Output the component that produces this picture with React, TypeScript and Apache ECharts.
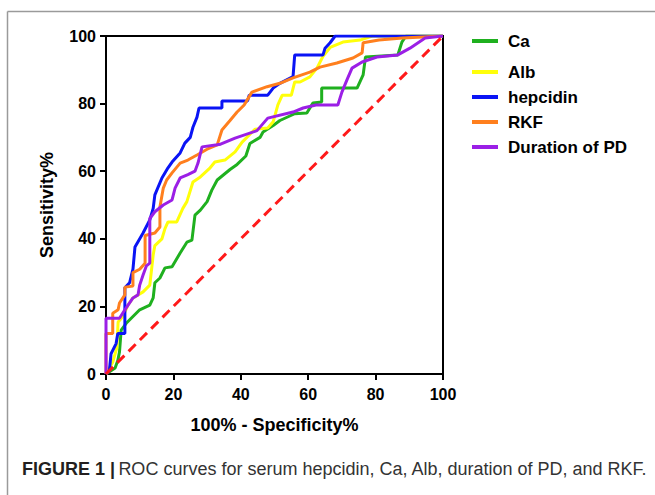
import React, { useEffect, useRef } from "react";
import * as echarts from "echarts";

const seriesNames = ["Ca", "Alb", "hepcidin", "RKF", "Duration of PD"];
const seriesColors = ["#1fb01f", "#ffff0a", "#0a14f5", "#ff7f1e", "#9b1fe6"];

const caData = [[0,0],[2.7,1.8],[3.5,4],[4,6.5],[4.5,13],[6,15],[10,19],[13,20.4],[14,22.5],[14.5,27],[16,28.4],[17.5,31.4],[19.6,31.7],[22,35.8],[24,39],[25.5,39.6],[26.4,47],[28,48.5],[30,51],[31.4,54.4],[33,57.4],[36.8,60.5],[38.9,62],[41.5,64.5],[42.7,68.2],[45.7,70],[46.6,71.6],[49.6,73.5],[51.6,75],[56,77],[59.6,77.2],[61.4,80.2],[64,80.5],[64,84.6],[74.5,84.6],[76.3,88.5],[77,93.8],[86.6,94.4],[87.8,98.2],[89,100],[100,100]];
const albData = [[0,0],[2,3.5],[3.2,7.7],[3.6,15.4],[5,17],[6.5,20.4],[8,22.5],[11,24.3],[13,26.3],[14,35.2],[14.5,38],[16.6,40],[17.5,43],[18.4,45],[21,45],[22.8,49],[24,51],[25.8,56.8],[28,58.3],[30.9,61],[32.3,62.7],[35.3,63.3],[38.3,65.7],[40.4,68.6],[44.2,72.4],[48,72.8],[49.6,74.6],[51,79.6],[52.3,82.5],[55,82.5],[56,86.4],[57.6,86.4],[60.5,87.9],[62.6,90.5],[64.4,94],[66.5,96.6],[70.3,98.2],[75.4,98.8],[79,100],[100,100]];
const hepcidinData = [[0,0],[1,1],[1.5,6],[3,9],[3.5,12],[5.6,12],[5.6,25.5],[7,27],[8,31],[8.6,37.6],[11,41.7],[13,45.6],[14,49],[14.5,53],[16.6,58],[18.4,61],[19.6,62.7],[22,65.4],[23.4,68.3],[25,70],[25.8,73],[27,76],[27.6,78.7],[34.4,78.7],[34.4,80.8],[42,80.8],[42.5,82.5],[48,82.5],[49.6,84.6],[51.6,86],[55.5,88],[56,94.4],[64.4,94.4],[65,96.4],[66.5,98],[68,100],[100,100]];
const rkfData = [[0,0],[0,12],[2,12],[2,18],[3.6,19],[4,21],[5.6,23.4],[5.6,25.7],[8,26],[8,30],[10,31],[11.6,32.8],[11.6,41],[14.5,41.7],[16,43.5],[16,49.4],[17,55],[18,57.4],[19.6,59.5],[22,62.4],[24.3,63.3],[27,64.8],[30,66.5],[33,67.8],[34.4,72.2],[36.8,75],[38.9,77.5],[41,79.6],[43.3,83.4],[47.8,85],[51.6,86],[55.5,87.6],[60.5,89.3],[63.5,90.8],[68.5,92],[73.3,93.5],[76,95],[76.3,98],[81,98.8],[88,99.4],[100,100]];
const durationData = [[0,0],[0,16.5],[4,16.5],[5.6,19],[8,22.5],[9.5,23.4],[10,26.3],[11,29.3],[12,32],[13,32.8],[13,46],[14.5,48],[17,50],[19.6,51.5],[20.5,55],[22,58],[24.3,59],[26.4,60],[27.3,62.4],[28.5,67.2],[33,67.8],[34,68],[38.3,69.8],[44.8,72],[48,75.7],[55.5,77.5],[58.5,78.7],[62.3,79.6],[68.8,79.6],[70,83.4],[71.5,87],[73,90.5],[76,92.3],[80.4,93.8],[86.6,94.4],[90.2,96.4],[94.7,99.4],[100,100]];
const referenceLine = [[0,0],[100,100]];

const xTicks = { min: 0, max: 100, interval: 20 };
const xName = "100% - Specificity%";
const yName = "Sensitivity%";
const captionBold = "FIGURE 1 |";
const captionText = "ROC curves for serum hepcidin, Ca, Alb, duration of PD, and RKF.";

const FONT = "'Liberation Sans', Arial, sans-serif";

export default function App() {
  const ref = useRef<HTMLDivElement>(null);
  useEffect(() => {
    if (!ref.current) return;
    const chart = echarts.init(ref.current, undefined, { renderer: "svg" });
    const allData = [caData, albData, hepcidinData, rkfData, durationData];
    const axisCommon = {
      type: "value" as const,
      min: xTicks.min,
      max: xTicks.max,
      interval: xTicks.interval,
      splitLine: { show: false },
      axisLine: { show: true, lineStyle: { color: "#000", width: 2 } },
      axisTick: { show: true, inside: false, length: 6, lineStyle: { color: "#000", width: 2 } },
      nameLocation: "middle" as const,
      nameTextStyle: { fontFamily: FONT, fontWeight: "bold" as const, fontSize: 18, color: "#000" },
    };
    const legendText = { fontFamily: FONT, fontWeight: "bold" as const, fontSize: 17, color: "#000", lineHeight: 18, padding: [0, 0, 0, 5] };
    chart.setOption({
      animation: false,
      backgroundColor: "#fff",
      textStyle: { fontFamily: FONT },
      grid: { left: 106, right: 212, top: 36, bottom: 121, show: true, borderColor: "#000", borderWidth: 2, containLabel: false },
      xAxis: {
        ...axisCommon,
        name: xName,
        nameGap: 42,
        axisLabel: { fontFamily: FONT, fontWeight: "bold", fontSize: 16, color: "#000", margin: 12 },
      },
      yAxis: {
        ...axisCommon,
        name: yName,
        nameGap: 50,
        axisLabel: { fontFamily: FONT, fontWeight: "bold", fontSize: 16, color: "#000", margin: 10 },
      },
      legend: [
        {
          data: [seriesNames[0]],
          orient: "vertical",
          left: 467,
          top: 27,
          icon: "rect",
          itemWidth: 26,
          itemHeight: 4,
          textStyle: legendText,
        },
        {
          data: seriesNames.slice(1),
          orient: "vertical",
          left: 467,
          top: 58,
          itemGap: 7,
          icon: "rect",
          itemWidth: 26,
          itemHeight: 4,
          textStyle: legendText,
        },
      ],
      series: [
        ...seriesNames.map((name, i) => ({
          name,
          type: "line",
          data: allData[i],
          showSymbol: false,
          symbol: "none",
          color: seriesColors[i],
          lineStyle: { width: 3, color: seriesColors[i] },
          z: 2 + i,
        })),
        {
          name: "reference",
          type: "line",
          data: referenceLine,
          showSymbol: false,
          symbol: "none",
          lineStyle: { width: 3, color: "#ff1a1a", type: [10, 6] },
          z: 10,
        },
      ],
      graphic: [
        { type: "line", shape: { x1: 7.5, y1: 11.5, x2: 7.5, y2: 495 }, style: { stroke: "#9a9a9a", lineWidth: 1.5 } },
        { type: "line", shape: { x1: 7.5, y1: 11.5, x2: 655, y2: 11.5 }, style: { stroke: "#9a9a9a", lineWidth: 1.5 } },
        {
          type: "text",
          left: 22,
          top: 460,
          style: {
            text: `{b|${captionBold}} {n|${captionText}}`,
            rich: {
              b: { fontFamily: FONT, fontWeight: "bold", fontSize: 18, fill: "#231f20" },
              n: { fontFamily: FONT, fontSize: 18, fill: "#333" },
            },
          },
        },
      ],
    });
    return () => chart.dispose();
  }, []);
  return <div ref={ref} style={{ position: "absolute", left: 0, top: 0, width: 655, height: 495 }} />;
}
